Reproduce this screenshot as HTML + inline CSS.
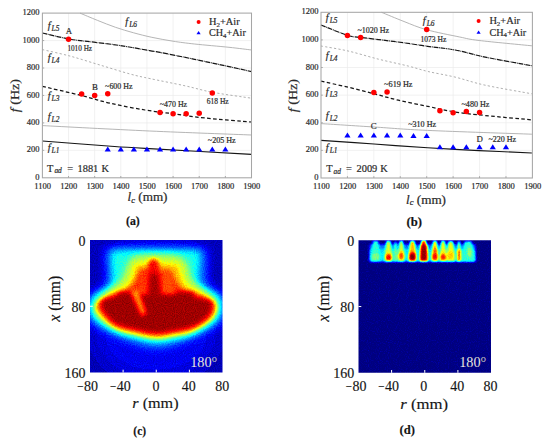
<!DOCTYPE html>
<html><head><meta charset="utf-8">
<style>
html,body{margin:0;padding:0;background:#fff;}
body{width:550px;height:448px;overflow:hidden;}
svg{display:block;font-family:"Liberation Serif", serif;}
.ch text{stroke:#2a2a2a;stroke-width:0.2px;}
.ax text{stroke:#151515;stroke-width:0.15px;}
</style></head>
<body>
<svg width="550" height="448" viewBox="0 0 550 448">
<defs>
  <filter id="b05" x="-30%" y="-30%" width="160%" height="160%"><feGaussianBlur stdDeviation="0.6"/></filter>
  <filter id="b1" x="-30%" y="-30%" width="160%" height="160%"><feGaussianBlur stdDeviation="1"/></filter>
  <filter id="b15" x="-30%" y="-30%" width="160%" height="160%"><feGaussianBlur stdDeviation="1.5"/></filter>
  <filter id="b2" x="-30%" y="-30%" width="160%" height="160%"><feGaussianBlur stdDeviation="2"/></filter>
  <filter id="b3" x="-30%" y="-30%" width="160%" height="160%"><feGaussianBlur stdDeviation="3"/></filter>
  <filter id="b4" x="-30%" y="-30%" width="160%" height="160%"><feGaussianBlur stdDeviation="4"/></filter>
  <filter id="b6" x="-30%" y="-30%" width="160%" height="160%"><feGaussianBlur stdDeviation="6"/></filter>
  <filter id="b10" x="-50%" y="-50%" width="200%" height="200%"><feGaussianBlur stdDeviation="10"/></filter>
  <filter id="jet" x="0" y="0" width="100%" height="100%" color-interpolation-filters="sRGB">
    <feComponentTransfer>
      <feFuncR type="table" tableValues="0.000 0.000 0.000 0.000 0.000 0.000 0.000 0.000 0.000 0.000 0.000 0.000 0.000 0.000 0.000 0.000 0.000 0.000 0.000 0.000 0.000 0.000 0.000 0.000 0.000 0.062 0.125 0.188 0.250 0.312 0.375 0.438 0.500 0.562 0.625 0.688 0.750 0.812 0.875 0.938 1.000 1.000 1.000 1.000 1.000 1.000 1.000 1.000 1.000 1.000 1.000 1.000 1.000 1.000 1.000 1.000 1.000 0.938 0.875 0.812 0.750 0.688 0.625 0.562 0.500"/>
      <feFuncG type="table" tableValues="0.000 0.000 0.000 0.000 0.000 0.000 0.000 0.000 0.000 0.062 0.125 0.188 0.250 0.312 0.375 0.438 0.500 0.562 0.625 0.688 0.750 0.812 0.875 0.938 1.000 1.000 1.000 1.000 1.000 1.000 1.000 1.000 1.000 1.000 1.000 1.000 1.000 1.000 1.000 1.000 1.000 0.938 0.875 0.812 0.750 0.688 0.625 0.562 0.500 0.438 0.375 0.312 0.250 0.188 0.125 0.062 0.000 0.000 0.000 0.000 0.000 0.000 0.000 0.000 0.000"/>
      <feFuncB type="table" tableValues="0.500 0.562 0.625 0.688 0.750 0.812 0.875 0.938 1.000 1.000 1.000 1.000 1.000 1.000 1.000 1.000 1.000 1.000 1.000 1.000 1.000 1.000 1.000 1.000 1.000 0.938 0.875 0.812 0.750 0.688 0.625 0.562 0.500 0.438 0.375 0.312 0.250 0.188 0.125 0.062 0.000 0.000 0.000 0.000 0.000 0.000 0.000 0.000 0.000 0.000 0.000 0.000 0.000 0.000 0.000 0.000 0.000 0.000 0.000 0.000 0.000 0.000 0.000 0.000 0.000"/>
    </feComponentTransfer>
  </filter>
  <filter id="jetn" x="0" y="0" width="100%" height="100%" color-interpolation-filters="sRGB">
    <feTurbulence type="fractalNoise" baseFrequency="0.9" numOctaves="1" seed="3" result="n"/>
    <feColorMatrix in="n" type="matrix" values="1 0 0 0 0  1 0 0 0 0  1 0 0 0 0  0 0 0 0 1" result="na"/>
    <feComposite in="na" in2="SourceGraphic" operator="arithmetic" k1="0" k2="0.14" k3="1" k4="-0.07" result="mix"/>
    <feComponentTransfer in="mix">
      <feFuncR type="table" tableValues="0.000 0.000 0.000 0.000 0.000 0.000 0.000 0.000 0.000 0.000 0.000 0.000 0.000 0.000 0.000 0.000 0.000 0.000 0.000 0.000 0.000 0.000 0.000 0.000 0.000 0.062 0.125 0.188 0.250 0.312 0.375 0.438 0.500 0.562 0.625 0.688 0.750 0.812 0.875 0.938 1.000 1.000 1.000 1.000 1.000 1.000 1.000 1.000 1.000 1.000 1.000 1.000 1.000 1.000 1.000 1.000 1.000 0.938 0.875 0.812 0.750 0.688 0.625 0.562 0.500"/>
      <feFuncG type="table" tableValues="0.000 0.000 0.000 0.000 0.000 0.000 0.000 0.000 0.000 0.062 0.125 0.188 0.250 0.312 0.375 0.438 0.500 0.562 0.625 0.688 0.750 0.812 0.875 0.938 1.000 1.000 1.000 1.000 1.000 1.000 1.000 1.000 1.000 1.000 1.000 1.000 1.000 1.000 1.000 1.000 1.000 0.938 0.875 0.812 0.750 0.688 0.625 0.562 0.500 0.438 0.375 0.312 0.250 0.188 0.125 0.062 0.000 0.000 0.000 0.000 0.000 0.000 0.000 0.000 0.000"/>
      <feFuncB type="table" tableValues="0.500 0.562 0.625 0.688 0.750 0.812 0.875 0.938 1.000 1.000 1.000 1.000 1.000 1.000 1.000 1.000 1.000 1.000 1.000 1.000 1.000 1.000 1.000 1.000 1.000 0.938 0.875 0.812 0.750 0.688 0.625 0.562 0.500 0.438 0.375 0.312 0.250 0.188 0.125 0.062 0.000 0.000 0.000 0.000 0.000 0.000 0.000 0.000 0.000 0.000 0.000 0.000 0.000 0.000 0.000 0.000 0.000 0.000 0.000 0.000 0.000 0.000 0.000 0.000 0.000"/>
    </feComponentTransfer>
  </filter>
  <clipPath id="clipimg"><rect x="0" y="0" width="132.5" height="132.5"/></clipPath>
</defs>
<g class="ch" fill="#2a2a2a">
<line x1="68.54" y1="13.10" x2="68.54" y2="177.80" stroke="#ebebeb" stroke-width="0.7"/>
<line x1="94.67" y1="13.10" x2="94.67" y2="177.80" stroke="#ebebeb" stroke-width="0.7"/>
<line x1="120.81" y1="13.10" x2="120.81" y2="177.80" stroke="#ebebeb" stroke-width="0.7"/>
<line x1="146.95" y1="13.10" x2="146.95" y2="177.80" stroke="#ebebeb" stroke-width="0.7"/>
<line x1="173.09" y1="13.10" x2="173.09" y2="177.80" stroke="#ebebeb" stroke-width="0.7"/>
<line x1="199.22" y1="13.10" x2="199.22" y2="177.80" stroke="#ebebeb" stroke-width="0.7"/>
<line x1="225.36" y1="13.10" x2="225.36" y2="177.80" stroke="#ebebeb" stroke-width="0.7"/>
<line x1="42.40" y1="150.35" x2="251.50" y2="150.35" stroke="#ebebeb" stroke-width="0.7"/>
<line x1="42.40" y1="122.90" x2="251.50" y2="122.90" stroke="#ebebeb" stroke-width="0.7"/>
<line x1="42.40" y1="95.45" x2="251.50" y2="95.45" stroke="#ebebeb" stroke-width="0.7"/>
<line x1="42.40" y1="68.00" x2="251.50" y2="68.00" stroke="#ebebeb" stroke-width="0.7"/>
<line x1="42.40" y1="40.55" x2="251.50" y2="40.55" stroke="#ebebeb" stroke-width="0.7"/>
<line x1="68.54" y1="177.80" x2="68.54" y2="176.00" stroke="#888" stroke-width="0.7"/>
<line x1="94.67" y1="177.80" x2="94.67" y2="176.00" stroke="#888" stroke-width="0.7"/>
<line x1="120.81" y1="177.80" x2="120.81" y2="176.00" stroke="#888" stroke-width="0.7"/>
<line x1="146.95" y1="177.80" x2="146.95" y2="176.00" stroke="#888" stroke-width="0.7"/>
<line x1="173.09" y1="177.80" x2="173.09" y2="176.00" stroke="#888" stroke-width="0.7"/>
<line x1="199.22" y1="177.80" x2="199.22" y2="176.00" stroke="#888" stroke-width="0.7"/>
<line x1="225.36" y1="177.80" x2="225.36" y2="176.00" stroke="#888" stroke-width="0.7"/>
<line x1="42.40" y1="150.35" x2="44.20" y2="150.35" stroke="#888" stroke-width="0.7"/>
<line x1="42.40" y1="122.90" x2="44.20" y2="122.90" stroke="#888" stroke-width="0.7"/>
<line x1="42.40" y1="95.45" x2="44.20" y2="95.45" stroke="#888" stroke-width="0.7"/>
<line x1="42.40" y1="68.00" x2="44.20" y2="68.00" stroke="#888" stroke-width="0.7"/>
<line x1="42.40" y1="40.55" x2="44.20" y2="40.55" stroke="#888" stroke-width="0.7"/>
<rect x="187.00" y="13.60" width="64.00" height="25.90" fill="#fff"/>
<path d="M42.40 141.00 C53.33 141.83 90.90 144.77 108.00 146.00 C125.10 147.23 121.08 147.00 145.00 148.40 C168.92 149.80 233.75 153.40 251.50 154.40" fill="none" stroke="#151515" stroke-width="1.15"/>
<path d="M42.40 125.60 C60.27 126.50 114.75 129.43 149.60 131.00 C184.45 132.57 234.52 134.33 251.50 135.00" fill="none" stroke="#a8a8a8" stroke-width="0.85"/>
<path d="M42.40 86.40 C48.70 87.87 68.88 92.38 80.20 95.20 C91.52 98.02 99.50 100.83 110.30 103.30 C121.10 105.77 134.22 108.22 145.00 110.00 C155.78 111.78 165.00 112.67 175.00 114.00 C185.00 115.33 192.25 116.67 205.00 118.00 C217.75 119.33 243.75 121.33 251.50 122.00" fill="none" stroke="#151515" stroke-width="1.25" stroke-dasharray="3.6 2.4"/>
<path d="M42.40 49.60 C47.02 50.68 60.47 53.52 70.10 56.10 C79.73 58.68 90.15 62.10 100.20 65.10 C110.25 68.10 122.10 71.85 130.40 74.10 C138.70 76.35 140.90 76.65 150.00 78.60 C159.10 80.55 174.57 83.52 185.00 85.80 C195.43 88.08 201.52 90.23 212.60 92.30 C223.68 94.37 245.02 97.22 251.50 98.20" fill="none" stroke="#9a9a9a" stroke-width="0.8" stroke-dasharray="2.2 2.2"/>
<path d="M42.40 33.00 C46.83 34.00 60.40 37.47 69.00 39.00 C77.60 40.53 85.50 41.12 94.00 42.20 C102.50 43.28 110.73 44.10 120.00 45.50 C129.27 46.90 142.93 49.45 149.60 50.60 C156.27 51.75 152.52 50.95 160.00 52.40 C167.48 53.85 183.00 56.93 194.50 59.30 C206.00 61.67 219.50 64.55 229.00 66.60 C238.50 68.65 247.75 70.77 251.50 71.60" fill="none" stroke="#151515" stroke-width="1.2" stroke-dasharray="5 0.7 0.8 0.7"/>
<path d="M80.00 13.10 C82.88 14.30 91.38 17.93 97.30 20.30 C103.22 22.67 109.45 25.22 115.50 27.30 C121.55 29.38 127.55 31.13 133.60 32.80 C139.65 34.47 145.23 35.90 151.80 37.30 C158.37 38.70 165.88 40.08 173.00 41.20 C180.12 42.32 185.17 42.98 194.50 44.00 C203.83 45.02 219.50 46.30 229.00 47.30 C238.50 48.30 247.75 49.55 251.50 50.00" fill="none" stroke="#a8a8a8" stroke-width="0.85"/>
<rect x="42.40" y="13.10" width="209.10" height="164.70" fill="none" stroke="#a6a6a6" stroke-width="1.05"/>
<circle cx="68.54" cy="39.18" r="2.75" fill="#ff0000"/>
<circle cx="81.61" cy="94.08" r="2.75" fill="#ff0000"/>
<circle cx="94.67" cy="95.45" r="2.75" fill="#ff0000"/>
<circle cx="107.74" cy="93.80" r="2.75" fill="#ff0000"/>
<circle cx="160.02" cy="112.47" r="2.75" fill="#ff0000"/>
<circle cx="173.09" cy="113.70" r="2.75" fill="#ff0000"/>
<circle cx="186.16" cy="113.70" r="2.75" fill="#ff0000"/>
<circle cx="199.22" cy="113.29" r="2.75" fill="#ff0000"/>
<circle cx="212.29" cy="92.98" r="2.75" fill="#ff0000"/>
<path d="M107.74 146.59 L110.84 151.59 L104.64 151.59 Z" fill="#0000ff"/>
<path d="M120.81 146.59 L123.91 151.59 L117.71 151.59 Z" fill="#0000ff"/>
<path d="M133.88 146.59 L136.98 151.59 L130.78 151.59 Z" fill="#0000ff"/>
<path d="M146.95 146.59 L150.05 151.59 L143.85 151.59 Z" fill="#0000ff"/>
<path d="M160.02 146.59 L163.12 151.59 L156.92 151.59 Z" fill="#0000ff"/>
<path d="M173.09 146.59 L176.19 151.59 L169.99 151.59 Z" fill="#0000ff"/>
<path d="M186.16 146.59 L189.26 151.59 L183.06 151.59 Z" fill="#0000ff"/>
<path d="M199.22 146.59 L202.32 151.59 L196.12 151.59 Z" fill="#0000ff"/>
<path d="M212.29 146.59 L215.39 151.59 L209.19 151.59 Z" fill="#0000ff"/>
<path d="M225.36 146.59 L228.46 151.59 L222.26 151.59 Z" fill="#0000ff"/>
<text x="39.60" y="179.90" font-size="8.50" text-anchor="end" >0</text>
<text x="39.60" y="152.45" font-size="8.50" text-anchor="end" >200</text>
<text x="39.60" y="125.00" font-size="8.50" text-anchor="end" >400</text>
<text x="39.60" y="97.55" font-size="8.50" text-anchor="end" >600</text>
<text x="39.60" y="70.10" font-size="8.50" text-anchor="end" >800</text>
<text x="39.60" y="42.65" font-size="8.50" text-anchor="end" >1000</text>
<text x="39.60" y="15.20" font-size="8.50" text-anchor="end" >1200</text>
<text x="42.70" y="188.70" font-size="8.50" text-anchor="middle" >1100</text>
<text x="68.84" y="188.70" font-size="8.50" text-anchor="middle" >1200</text>
<text x="94.97" y="188.70" font-size="8.50" text-anchor="middle" >1300</text>
<text x="121.11" y="188.70" font-size="8.50" text-anchor="middle" >1400</text>
<text x="147.25" y="188.70" font-size="8.50" text-anchor="middle" >1500</text>
<text x="173.39" y="188.70" font-size="8.50" text-anchor="middle" >1600</text>
<text x="199.53" y="188.70" font-size="8.50" text-anchor="middle" >1700</text>
<text x="225.66" y="188.70" font-size="8.50" text-anchor="middle" >1800</text>
<text x="251.80" y="188.70" font-size="8.50" text-anchor="middle" >1900</text>
<text x="47.70" y="28.50" font-size="10.2"><tspan font-style="italic">f</tspan><tspan font-style="italic" font-size="7.4" dx="1.0" dy="2.0">L5</tspan></text>
<text x="125.30" y="25.00" font-size="10.2"><tspan font-style="italic">f</tspan><tspan font-style="italic" font-size="7.4" dx="1.0" dy="2.0">L6</tspan></text>
<text x="47.70" y="61.30" font-size="10.2"><tspan font-style="italic">f</tspan><tspan font-style="italic" font-size="7.4" dx="1.0" dy="2.0">L4</tspan></text>
<text x="47.70" y="98.80" font-size="10.2"><tspan font-style="italic">f</tspan><tspan font-style="italic" font-size="7.4" dx="1.0" dy="2.0">L3</tspan></text>
<text x="47.70" y="119.90" font-size="10.2"><tspan font-style="italic">f</tspan><tspan font-style="italic" font-size="7.4" dx="1.0" dy="2.0">L2</tspan></text>
<text x="47.70" y="151.00" font-size="10.2"><tspan font-style="italic">f</tspan><tspan font-style="italic" font-size="7.4" dx="1.0" dy="2.0">L1</tspan></text>
<text x="68.90" y="33.90" font-size="8.80" text-anchor="middle" >A</text>
<text x="67.40" y="50.60" font-size="7.60" text-anchor="start" textLength="24.7" lengthAdjust="spacingAndGlyphs" >1010 Hz</text>
<text x="95.00" y="89.80" font-size="8.80" text-anchor="middle" >B</text>
<text x="105.10" y="88.80" font-size="7.60" text-anchor="start" textLength="27.4" lengthAdjust="spacingAndGlyphs" >~600 Hz</text>
<text x="159.80" y="107.40" font-size="7.60" text-anchor="start" textLength="27.3" lengthAdjust="spacingAndGlyphs" >~470 Hz</text>
<text x="206.80" y="103.60" font-size="7.60" text-anchor="start" textLength="21.9" lengthAdjust="spacingAndGlyphs" >618 Hz</text>
<text x="207.80" y="143.20" font-size="7.60" text-anchor="start" textLength="27.9" lengthAdjust="spacingAndGlyphs" >~205 Hz</text>
<text y="171.6" font-size="10.4"><tspan x="47.0">T</tspan><tspan x="54.4" font-size="7.4" font-style="italic" dy="1.6">ad</tspan><tspan x="67.3" dy="-1.6">=</tspan><tspan x="77.5">1881</tspan><tspan x="101.4">K</tspan></text>
<circle cx="198.6" cy="21.9" r="2.0" fill="#ff0000"/>
<path d="M198.6 30.9 L200.7 34.2 L196.5 34.2 Z" fill="#0000ff"/>
<text x="209" y="25.2" font-size="10.2" textLength="30.6" lengthAdjust="spacingAndGlyphs">H<tspan font-size="6.8" dy="1.8">2</tspan><tspan dy="-1.8">+Air</tspan></text>
<text x="209" y="36.0" font-size="10.2" textLength="36.8" lengthAdjust="spacingAndGlyphs">CH<tspan font-size="6.8" dy="1.8">4</tspan><tspan dy="-1.8">+Air</tspan></text>
<text transform="translate(18.9 95.6) rotate(-90)" text-anchor="middle" font-size="12.3" textLength="33.2" lengthAdjust="spacingAndGlyphs"><tspan font-style="italic">f</tspan> (Hz)</text>
<text x="127.5" y="201.3" font-size="11.5" textLength="40" lengthAdjust="spacingAndGlyphs"><tspan font-style="italic">l</tspan><tspan font-style="italic" font-size="7.5" dy="1.8">c</tspan><tspan dy="-1.8"> (mm)</tspan></text>
<text x="126" y="224.7" font-size="12.3" font-weight="bold" fill="#111" textLength="13.8" lengthAdjust="spacingAndGlyphs">(a)</text>
<line x1="347.43" y1="12.30" x2="347.43" y2="178.00" stroke="#ebebeb" stroke-width="0.7"/>
<line x1="373.85" y1="12.30" x2="373.85" y2="178.00" stroke="#ebebeb" stroke-width="0.7"/>
<line x1="400.27" y1="12.30" x2="400.27" y2="178.00" stroke="#ebebeb" stroke-width="0.7"/>
<line x1="426.70" y1="12.30" x2="426.70" y2="178.00" stroke="#ebebeb" stroke-width="0.7"/>
<line x1="453.12" y1="12.30" x2="453.12" y2="178.00" stroke="#ebebeb" stroke-width="0.7"/>
<line x1="479.55" y1="12.30" x2="479.55" y2="178.00" stroke="#ebebeb" stroke-width="0.7"/>
<line x1="505.97" y1="12.30" x2="505.97" y2="178.00" stroke="#ebebeb" stroke-width="0.7"/>
<line x1="321.00" y1="150.38" x2="532.40" y2="150.38" stroke="#ebebeb" stroke-width="0.7"/>
<line x1="321.00" y1="122.77" x2="532.40" y2="122.77" stroke="#ebebeb" stroke-width="0.7"/>
<line x1="321.00" y1="95.15" x2="532.40" y2="95.15" stroke="#ebebeb" stroke-width="0.7"/>
<line x1="321.00" y1="67.53" x2="532.40" y2="67.53" stroke="#ebebeb" stroke-width="0.7"/>
<line x1="321.00" y1="39.92" x2="532.40" y2="39.92" stroke="#ebebeb" stroke-width="0.7"/>
<line x1="347.43" y1="178.00" x2="347.43" y2="176.20" stroke="#888" stroke-width="0.7"/>
<line x1="373.85" y1="178.00" x2="373.85" y2="176.20" stroke="#888" stroke-width="0.7"/>
<line x1="400.27" y1="178.00" x2="400.27" y2="176.20" stroke="#888" stroke-width="0.7"/>
<line x1="426.70" y1="178.00" x2="426.70" y2="176.20" stroke="#888" stroke-width="0.7"/>
<line x1="453.12" y1="178.00" x2="453.12" y2="176.20" stroke="#888" stroke-width="0.7"/>
<line x1="479.55" y1="178.00" x2="479.55" y2="176.20" stroke="#888" stroke-width="0.7"/>
<line x1="505.97" y1="178.00" x2="505.97" y2="176.20" stroke="#888" stroke-width="0.7"/>
<line x1="321.00" y1="150.38" x2="322.80" y2="150.38" stroke="#888" stroke-width="0.7"/>
<line x1="321.00" y1="122.77" x2="322.80" y2="122.77" stroke="#888" stroke-width="0.7"/>
<line x1="321.00" y1="95.15" x2="322.80" y2="95.15" stroke="#888" stroke-width="0.7"/>
<line x1="321.00" y1="67.53" x2="322.80" y2="67.53" stroke="#888" stroke-width="0.7"/>
<line x1="321.00" y1="39.92" x2="322.80" y2="39.92" stroke="#888" stroke-width="0.7"/>
<rect x="467.00" y="12.80" width="65.00" height="26.00" fill="#fff"/>
<path d="M321.00 140.40 C329.83 141.00 356.23 142.77 374.00 144.00 C391.77 145.23 410.10 146.70 427.60 147.80 C445.10 148.90 461.62 149.73 479.00 150.60 C496.38 151.47 523.08 152.60 531.90 153.00" fill="none" stroke="#151515" stroke-width="1.15"/>
<path d="M321.00 123.60 C329.83 124.17 356.23 125.87 374.00 127.00 C391.77 128.13 401.28 129.20 427.60 130.40 C453.92 131.60 514.52 133.57 531.90 134.20" fill="none" stroke="#a8a8a8" stroke-width="0.85"/>
<path d="M321.00 81.20 C325.52 82.20 339.23 85.10 348.10 87.20 C356.97 89.30 365.83 91.63 374.20 93.80 C382.57 95.97 389.40 98.12 398.30 100.20 C407.20 102.28 418.13 104.33 427.60 106.30 C437.07 108.27 445.50 110.47 455.10 112.00 C464.70 113.53 472.40 114.18 485.20 115.50 C498.00 116.82 524.12 119.17 531.90 119.90" fill="none" stroke="#151515" stroke-width="1.25" stroke-dasharray="3.6 2.4"/>
<path d="M321.00 46.00 C325.52 46.83 338.57 48.82 348.10 51.00 C357.63 53.18 368.15 56.58 378.20 59.10 C388.25 61.62 400.10 64.03 408.40 66.10 C416.70 68.17 420.22 69.67 428.00 71.50 C435.78 73.33 445.57 74.82 455.10 77.10 C464.63 79.38 472.40 82.42 485.20 85.20 C498.00 87.98 524.12 92.37 531.90 93.80" fill="none" stroke="#9a9a9a" stroke-width="0.8" stroke-dasharray="2.2 2.2"/>
<path d="M321.00 25.00 C325.43 26.73 341.00 33.33 347.60 35.40 C354.20 37.47 352.20 36.30 360.60 37.40 C369.00 38.50 386.83 40.52 398.00 42.00 C409.17 43.48 418.08 44.97 427.60 46.30 C437.12 47.63 445.50 48.20 455.10 50.00 C464.70 51.80 472.40 54.47 485.20 57.10 C498.00 59.73 524.12 64.35 531.90 65.80" fill="none" stroke="#151515" stroke-width="1.2" stroke-dasharray="5 0.7 0.8 0.7"/>
<path d="M381.50 12.30 C385.25 13.83 396.50 18.60 404.00 21.50 C411.50 24.40 417.22 27.12 426.50 29.70 C435.78 32.28 450.92 35.20 459.70 37.00 C468.48 38.80 467.17 39.03 479.20 40.50 C491.23 41.97 523.12 44.92 531.90 45.80" fill="none" stroke="#a8a8a8" stroke-width="0.85"/>
<rect x="321.00" y="12.30" width="211.40" height="165.70" fill="none" stroke="#a6a6a6" stroke-width="1.05"/>
<circle cx="347.43" cy="35.50" r="2.75" fill="#ff0000"/>
<circle cx="360.64" cy="37.43" r="2.75" fill="#ff0000"/>
<circle cx="373.85" cy="92.39" r="2.75" fill="#ff0000"/>
<circle cx="387.06" cy="92.11" r="2.75" fill="#ff0000"/>
<circle cx="426.70" cy="29.42" r="2.75" fill="#ff0000"/>
<circle cx="439.91" cy="110.75" r="2.75" fill="#ff0000"/>
<circle cx="453.12" cy="112.69" r="2.75" fill="#ff0000"/>
<circle cx="466.34" cy="111.58" r="2.75" fill="#ff0000"/>
<circle cx="479.55" cy="112.41" r="2.75" fill="#ff0000"/>
<path d="M347.43 132.39 L350.53 137.39 L344.32 137.39 Z" fill="#0000ff"/>
<path d="M360.64 132.39 L363.74 137.39 L357.54 137.39 Z" fill="#0000ff"/>
<path d="M373.85 132.39 L376.95 137.39 L370.75 137.39 Z" fill="#0000ff"/>
<path d="M387.06 132.39 L390.16 137.39 L383.96 137.39 Z" fill="#0000ff"/>
<path d="M400.27 132.39 L403.38 137.39 L397.17 137.39 Z" fill="#0000ff"/>
<path d="M413.49 132.95 L416.59 137.95 L410.39 137.95 Z" fill="#0000ff"/>
<path d="M426.70 132.95 L429.80 137.95 L423.60 137.95 Z" fill="#0000ff"/>
<path d="M439.91 144.27 L443.01 149.27 L436.81 149.27 Z" fill="#0000ff"/>
<path d="M453.12 144.27 L456.23 149.27 L450.02 149.27 Z" fill="#0000ff"/>
<path d="M466.34 144.27 L469.44 149.27 L463.24 149.27 Z" fill="#0000ff"/>
<path d="M479.55 144.27 L482.65 149.27 L476.45 149.27 Z" fill="#0000ff"/>
<path d="M492.76 144.27 L495.86 149.27 L489.66 149.27 Z" fill="#0000ff"/>
<path d="M505.97 144.27 L509.07 149.27 L502.87 149.27 Z" fill="#0000ff"/>
<text x="318.40" y="180.10" font-size="8.50" text-anchor="end" >0</text>
<text x="318.40" y="152.48" font-size="8.50" text-anchor="end" >200</text>
<text x="318.40" y="124.87" font-size="8.50" text-anchor="end" >400</text>
<text x="318.40" y="97.25" font-size="8.50" text-anchor="end" >600</text>
<text x="318.40" y="69.63" font-size="8.50" text-anchor="end" >800</text>
<text x="318.40" y="42.02" font-size="8.50" text-anchor="end" >1000</text>
<text x="318.40" y="14.40" font-size="8.50" text-anchor="end" >1200</text>
<text x="321.30" y="188.90" font-size="8.50" text-anchor="middle" >1100</text>
<text x="347.73" y="188.90" font-size="8.50" text-anchor="middle" >1200</text>
<text x="374.15" y="188.90" font-size="8.50" text-anchor="middle" >1300</text>
<text x="400.57" y="188.90" font-size="8.50" text-anchor="middle" >1400</text>
<text x="427.00" y="188.90" font-size="8.50" text-anchor="middle" >1500</text>
<text x="453.43" y="188.90" font-size="8.50" text-anchor="middle" >1600</text>
<text x="479.85" y="188.90" font-size="8.50" text-anchor="middle" >1700</text>
<text x="506.27" y="188.90" font-size="8.50" text-anchor="middle" >1800</text>
<text x="532.70" y="188.90" font-size="8.50" text-anchor="middle" >1900</text>
<text x="325.80" y="21.20" font-size="10.2"><tspan font-style="italic">f</tspan><tspan font-style="italic" font-size="7.4" dx="1.0" dy="2.0">L5</tspan></text>
<text x="422.80" y="24.40" font-size="10.2"><tspan font-style="italic">f</tspan><tspan font-style="italic" font-size="7.4" dx="1.0" dy="2.0">L6</tspan></text>
<text x="325.80" y="58.80" font-size="10.2"><tspan font-style="italic">f</tspan><tspan font-style="italic" font-size="7.4" dx="1.0" dy="2.0">L4</tspan></text>
<text x="325.80" y="95.00" font-size="10.2"><tspan font-style="italic">f</tspan><tspan font-style="italic" font-size="7.4" dx="1.0" dy="2.0">L3</tspan></text>
<text x="325.80" y="119.30" font-size="10.2"><tspan font-style="italic">f</tspan><tspan font-style="italic" font-size="7.4" dx="1.0" dy="2.0">L2</tspan></text>
<text x="325.80" y="151.20" font-size="10.2"><tspan font-style="italic">f</tspan><tspan font-style="italic" font-size="7.4" dx="1.0" dy="2.0">L1</tspan></text>
<text x="357.40" y="32.60" font-size="7.60" text-anchor="start" textLength="31.7" lengthAdjust="spacingAndGlyphs" >~1020 Hz</text>
<text x="420.50" y="41.60" font-size="7.60" text-anchor="start" textLength="25.8" lengthAdjust="spacingAndGlyphs" >1073 Hz</text>
<text x="384.10" y="86.60" font-size="7.60" text-anchor="start" textLength="28.4" lengthAdjust="spacingAndGlyphs" >~619 Hz</text>
<text x="461.50" y="106.90" font-size="7.60" text-anchor="start" textLength="27.9" lengthAdjust="spacingAndGlyphs" >~480 Hz</text>
<text x="373.80" y="129.40" font-size="8.80" text-anchor="middle" >C</text>
<text x="408.20" y="127.20" font-size="7.60" text-anchor="start" textLength="27.9" lengthAdjust="spacingAndGlyphs" >~310 Hz</text>
<text x="479.80" y="142.00" font-size="8.80" text-anchor="middle" >D</text>
<text x="488.40" y="142.00" font-size="7.60" text-anchor="start" textLength="27.7" lengthAdjust="spacingAndGlyphs" >~220 Hz</text>
<text y="171.9" font-size="10.4"><tspan x="326.3">T</tspan><tspan x="333.5" font-size="7.4" font-style="italic" dy="1.6">ad</tspan><tspan x="346.1" dy="-1.6">=</tspan><tspan x="356.5">2009</tspan><tspan x="380.3">K</tspan></text>
<circle cx="478.6" cy="21" r="2.0" fill="#ff0000"/>
<path d="M478.6 30.5 L480.7 33.8 L476.5 33.8 Z" fill="#0000ff"/>
<text x="489.4" y="24.4" font-size="10.2" textLength="30.6" lengthAdjust="spacingAndGlyphs">H<tspan font-size="6.8" dy="1.8">2</tspan><tspan dy="-1.8">+Air</tspan></text>
<text x="489.4" y="35.6" font-size="10.2" textLength="36.8" lengthAdjust="spacingAndGlyphs">CH<tspan font-size="6.8" dy="1.8">4</tspan><tspan dy="-1.8">+Air</tspan></text>
<text transform="translate(296.9 95.6) rotate(-90)" text-anchor="middle" font-size="12.3" textLength="33.2" lengthAdjust="spacingAndGlyphs"><tspan font-style="italic">f</tspan> (Hz)</text>
<text x="406" y="203.5" font-size="11.5" textLength="40" lengthAdjust="spacingAndGlyphs"><tspan font-style="italic">l</tspan><tspan font-style="italic" font-size="7.5" dy="1.8">c</tspan><tspan dy="-1.8"> (mm)</tspan></text>
<text x="406.6" y="225.8" font-size="12.3" font-weight="bold" fill="#111" textLength="15.5" lengthAdjust="spacingAndGlyphs">(b)</text>
</g>
<g transform="translate(90 240)">
  <g clip-path="url(#clipimg)"><g filter="url(#jetn)"><rect x="-5" y="-5" width="143" height="143" fill="rgb(15,15,15)"/><ellipse cx="66" cy="95" rx="60" ry="45" fill="rgb(28,28,28)" filter="url(#b10)"/><ellipse cx="66" cy="12" rx="45" ry="10" fill="rgb(31,31,31)" filter="url(#b6)"/><path filter="url(#b4)" fill="rgb(61,61,61)" d="M24.00 7.00 C8.50 8.00 16.50 7.17 15.00 13.00 C13.50 18.83 17.17 35.33 15.00 42.00 C12.83 48.67 5.17 49.17 2.00 53.00 C-1.17 56.83 -3.83 60.00 -4.00 65.00 C-4.17 70.00 -3.92 77.67 1.00 83.00 C5.92 88.33 14.67 92.67 25.50 97.00 C36.33 101.33 53.08 108.67 66.00 109.00 C78.92 109.33 92.17 103.33 103.00 99.00 C113.83 94.67 125.33 88.67 131.00 83.00 C136.67 77.33 137.00 70.00 137.00 65.00 C137.00 60.00 134.17 56.83 131.00 53.00 C127.83 49.17 120.33 48.67 118.00 42.00 C115.67 35.33 118.67 18.83 117.00 13.00 C115.33 7.17 123.50 8.00 108.00 7.00 C92.50 6.00 39.50 6.00 24.00 7.00 Z"/>
<path filter="url(#b3)" fill="rgb(102,102,102)" d="M32.00 11.00 C19.00 11.83 23.67 10.50 22.00 16.00 C20.33 21.50 24.67 37.50 22.00 44.00 C19.33 50.50 9.67 51.50 6.00 55.00 C2.33 58.50 0.17 61.00 0.00 65.00 C-0.17 69.00 0.75 74.50 5.00 79.00 C9.25 83.50 18.92 88.83 25.50 92.00 C32.08 95.17 37.75 96.25 44.50 98.00 C51.25 99.75 59.42 102.17 66.00 102.50 C72.58 102.83 77.83 101.33 84.00 100.00 C90.17 98.67 96.00 97.83 103.00 94.50 C110.00 91.17 121.33 84.92 126.00 80.00 C130.67 75.08 130.83 69.17 131.00 65.00 C131.17 60.83 130.67 58.50 127.00 55.00 C123.33 51.50 112.00 50.50 109.00 44.00 C106.00 37.50 110.50 21.50 109.00 16.00 C107.50 10.50 112.83 11.83 100.00 11.00 C87.17 10.17 45.00 10.17 32.00 11.00 Z"/>
<path filter="url(#b3)" fill="rgb(148,148,148)" d="M48.00 16.00 C40.17 17.33 40.83 20.00 38.00 24.00 C35.17 28.00 35.17 35.00 31.00 40.00 C26.83 45.00 17.42 49.83 13.00 54.00 C8.58 58.17 5.33 61.17 4.50 65.00 C3.67 68.83 4.50 72.92 8.00 77.00 C11.50 81.08 19.42 86.50 25.50 89.50 C31.58 92.50 37.75 93.42 44.50 95.00 C51.25 96.58 59.42 98.75 66.00 99.00 C72.58 99.25 77.83 97.67 84.00 96.50 C90.17 95.33 96.50 94.92 103.00 92.00 C109.50 89.08 118.92 83.50 123.00 79.00 C127.08 74.50 128.00 69.17 127.50 65.00 C127.00 60.83 124.25 58.17 120.00 54.00 C115.75 49.83 105.83 45.00 102.00 40.00 C98.17 35.00 99.83 28.00 97.00 24.00 C94.17 20.00 93.17 17.33 85.00 16.00 C76.83 14.67 55.83 14.67 48.00 16.00 Z"/>
<path filter="url(#b2)" fill="rgb(178,178,178)" d="M49.00 25.00 C42.33 26.50 46.00 30.50 44.00 34.00 C42.00 37.50 41.17 42.50 37.00 46.00 C32.83 49.50 24.08 51.83 19.00 55.00 C13.92 58.17 8.00 61.67 6.50 65.00 C5.00 68.33 6.83 71.25 10.00 75.00 C13.17 78.75 19.75 84.50 25.50 87.50 C31.25 90.50 37.75 91.42 44.50 93.00 C51.25 94.58 59.42 96.75 66.00 97.00 C72.58 97.25 77.83 95.67 84.00 94.50 C90.17 93.33 96.83 92.75 103.00 90.00 C109.17 87.25 117.25 82.17 121.00 78.00 C124.75 73.83 126.83 68.83 125.50 65.00 C124.17 61.17 117.92 58.17 113.00 55.00 C108.08 51.83 99.83 49.50 96.00 46.00 C92.17 42.50 92.00 37.50 90.00 34.00 C88.00 30.50 90.83 26.50 84.00 25.00 C77.17 23.50 55.67 23.50 49.00 25.00 Z"/>
<path filter="url(#b2)" fill="rgb(214,214,214)" d="M52.00 32.00 C46.50 33.67 47.67 39.00 45.00 42.00 C42.33 45.00 40.50 47.50 36.00 50.00 C31.50 52.50 22.58 54.58 18.00 57.00 C13.42 59.42 9.50 61.83 8.50 64.50 C7.50 67.17 9.17 69.50 12.00 73.00 C14.83 76.50 20.08 82.50 25.50 85.50 C30.92 88.50 37.75 89.42 44.50 91.00 C51.25 92.58 59.42 94.75 66.00 95.00 C72.58 95.25 77.83 93.67 84.00 92.50 C90.17 91.33 97.00 90.58 103.00 88.00 C109.00 85.42 116.50 80.92 120.00 77.00 C123.50 73.08 125.00 67.83 124.00 64.50 C123.00 61.17 119.00 59.42 114.00 57.00 C109.00 54.58 98.67 52.50 94.00 50.00 C89.33 47.50 88.67 45.00 86.00 42.00 C83.33 39.00 83.67 33.67 78.00 32.00 C72.33 30.33 57.50 30.33 52.00 32.00 Z"/>
<path filter="url(#b2)" fill="rgb(247,247,247)" d="M36.00 52.00 C23.58 52.75 29.17 55.17 25.50 56.50 C21.83 57.83 16.33 58.83 14.00 60.00 C11.67 61.17 11.50 61.67 11.50 63.50 C11.50 65.33 11.67 67.75 14.00 71.00 C16.33 74.25 20.42 80.08 25.50 83.00 C30.58 85.92 37.75 86.92 44.50 88.50 C51.25 90.08 59.42 92.25 66.00 92.50 C72.58 92.75 77.83 91.13 84.00 90.00 C90.17 88.87 97.33 88.20 103.00 85.70 C108.67 83.20 114.92 78.70 118.00 75.00 C121.08 71.30 121.67 66.00 121.50 63.50 C121.33 61.00 120.08 61.17 117.00 60.00 C113.92 58.83 105.83 57.83 103.00 56.50 C100.17 55.17 111.17 52.75 100.00 52.00 C88.83 51.25 48.42 51.25 36.00 52.00 Z"/>
<g filter="url(#b2)"><path fill="rgb(224,224,224)" d="M58 24 C60 17 67 17 69 24 L72 56 L56 56 Z"/><path fill="rgb(209,209,209)" d="M50 31 C51 28 56 28 57 31 L58 54 L48 54 Z"/><path fill="rgb(204,204,204)" d="M73 32 C74 28 80 28 81 32 L86 54 L72 54 Z"/><path fill="rgb(245,245,245)" d="M60 36 C61 32 66 32 68 36 L71 56 L58 56 Z"/><path fill="rgb(184,184,184)" d="M40 50 L48 50 L56 73 L52 76 Z"/></g></g></g>
  <g stroke="#fff" stroke-width="1"><line x1="33.1" y1="132.5" x2="33.1" y2="129.7"/><line x1="66.25" y1="132.5" x2="66.25" y2="129.7"/><line x1="99.4" y1="132.5" x2="99.4" y2="129.7"/><line x1="0" y1="66.25" x2="2.8" y2="66.25"/></g>
</g>
<g transform="translate(358.5 240.3)">
  <g clip-path="url(#clipimg)"><g filter="url(#jetn)"><rect x="-5" y="-5" width="143" height="143" fill="rgb(0,0,0)"/>
<path filter="url(#b1)" fill="rgb(61,61,61)" d="M11 4 L117 4 L117.5 21.5 L10.5 21.5 Z"/>
<path filter="url(#b1)" fill="rgb(92,92,92)" d="M12 9 L116 9 L116 20.5 L12 20.5 Z"/>
<g filter="url(#b1)"><path fill="rgb(107,107,107)" d="M12.50 21.00 C12.50 15.00 13.89 4.50 14.82 0.50 L19.48 0.50 C20.41 4.50 21.80 15.00 21.80 21.00 Z"/><ellipse cx="17.00" cy="16.50" rx="4.00" ry="3.50" fill="rgb(128,128,128)"/><path fill="rgb(148,148,148)" d="M26.10 21.00 C26.10 15.00 27.26 4.50 28.02 0.50 L31.88 0.50 C32.64 4.50 33.80 15.00 33.80 21.00 Z"/><ellipse cx="30.20" cy="16.80" rx="3.30" ry="3.60" fill="rgb(204,204,204)"/><ellipse cx="30.40" cy="17.50" rx="2.20" ry="2.20" fill="rgb(230,230,230)"/><path fill="rgb(128,128,128)" d="M35.40 21.00 C35.40 15.00 35.89 5.50 36.23 1.50 L37.88 1.50 C38.21 5.50 38.70 15.00 38.70 21.00 Z"/><path fill="rgb(153,153,153)" d="M39.80 21.00 C39.80 15.00 40.70 4.50 41.30 0.50 L44.30 0.50 C44.90 4.50 45.80 15.00 45.80 21.00 Z"/><ellipse cx="42.80" cy="15.50" rx="3.00" ry="3.60" fill="rgb(204,204,204)"/><path fill="rgb(178,178,178)" d="M50.10 21.00 C50.10 15.00 51.26 4.50 52.02 0.50 L55.88 0.50 C56.64 4.50 57.80 15.00 57.80 21.00 Z"/><ellipse cx="54.00" cy="16.20" rx="3.60" ry="4.20" fill="rgb(237,237,237)"/><ellipse cx="54.00" cy="17.00" rx="2.60" ry="3.00" fill="rgb(255,255,255)"/><path fill="rgb(217,217,217)" d="M61.20 21.00 C61.20 15.00 62.40 4.00 63.20 0.00 L67.20 0.00 C68.00 4.00 69.20 15.00 69.20 21.00 Z"/><rect x="62" y="4" width="6.8" height="16.5" rx="3" fill="rgb(250,250,250)"/><path fill="rgb(168,168,168)" d="M73.10 21.00 C73.10 15.00 74.09 4.50 74.75 0.50 L78.05 0.50 C78.71 4.50 79.70 15.00 79.70 21.00 Z"/><rect x="75.2" y="7" width="3" height="12" rx="1.5" fill="rgb(209,209,209)"/><ellipse cx="76.40" cy="16.30" rx="3.00" ry="3.20" fill="rgb(224,224,224)"/><path fill="rgb(158,158,158)" d="M81.30 21.00 C81.30 15.00 82.29 4.50 82.95 0.50 L86.25 0.50 C86.91 4.50 87.90 15.00 87.90 21.00 Z"/><ellipse cx="84.60" cy="16.80" rx="3.00" ry="3.00" fill="rgb(219,219,219)"/><path fill="rgb(153,153,153)" d="M87.90 21.00 C87.90 15.00 89.20 5.00 90.08 1.00 L94.42 1.00 C95.30 5.00 96.60 15.00 96.60 21.00 Z"/><ellipse cx="92.00" cy="15.00" rx="3.50" ry="4.00" fill="rgb(173,173,173)"/><path fill="rgb(153,153,153)" d="M98.80 21.00 C98.80 15.00 99.31 5.00 99.65 1.00 L101.35 1.00 C101.69 5.00 102.20 15.00 102.20 21.00 Z"/><rect x="99.1" y="9" width="2.9" height="11.5" rx="1.4" fill="rgb(214,214,214)"/><path fill="rgb(107,107,107)" d="M103.10 21.00 C103.10 15.00 105.06 5.00 106.38 1.00 L112.92 1.00 C114.23 5.00 116.20 15.00 116.20 21.00 Z"/><ellipse cx="111.00" cy="12.00" rx="1.60" ry="5.00" fill="rgb(140,140,140)"/></g></g></g>
  <g stroke="#fff" stroke-width="1"><line x1="33.1" y1="132.5" x2="33.1" y2="129.7"/><line x1="66.25" y1="132.5" x2="66.25" y2="129.7"/><line x1="99.4" y1="132.5" x2="99.4" y2="129.7"/><line x1="0" y1="66.25" x2="2.8" y2="66.25"/></g>
</g>
<g class="ax" font-size="14" fill="#151515">
  <text x="85.6" y="245.5" text-anchor="end">0</text>
  <text x="85.6" y="311.8" text-anchor="end">80</text>
  <text x="85.6" y="378.0" text-anchor="end">160</text>
  <text x="87.6" y="390.7" text-anchor="middle"><tspan font-size="11" dy="-0.8">&#8722;</tspan><tspan dy="0.8" dx="0.8">80</tspan></text>
  <text x="120.2" y="390.7" text-anchor="middle"><tspan font-size="11" dy="-0.8">&#8722;</tspan><tspan dy="0.8" dx="0.8">40</tspan></text>
  <text x="155.9" y="390.7" text-anchor="middle">0</text>
  <text x="188.8" y="390.7" text-anchor="middle">40</text>
  <text x="222.2" y="390.7" text-anchor="middle">80</text>
  <text x="132.3" y="408.3" font-size="15.2" textLength="46.3" lengthAdjust="spacingAndGlyphs"><tspan font-style="italic">r</tspan> (mm)</text>
  <text transform="translate(59.8 298.8) rotate(-90)" text-anchor="middle" font-size="15.8"><tspan font-style="italic">x</tspan> (mm)</text>
  <text x="133.3" y="434.6" font-size="12.5" font-weight="bold" textLength="12.8" lengthAdjust="spacingAndGlyphs">(c)</text>
  <text x="190.2" y="366.7" font-size="15" fill="#fff" stroke="#fff" textLength="27" lengthAdjust="spacingAndGlyphs">180°</text>
</g>
<g class="ax" font-size="14" fill="#151515">
  <text x="354.2" y="245.7" text-anchor="end">0</text>
  <text x="354.2" y="312.0" text-anchor="end">80</text>
  <text x="354.2" y="378.3" text-anchor="end">160</text>
  <text x="356.0" y="391.1" text-anchor="middle"><tspan font-size="11" dy="-0.8">&#8722;</tspan><tspan dy="0.8" dx="0.8">80</tspan></text>
  <text x="388.6" y="391.1" text-anchor="middle"><tspan font-size="11" dy="-0.8">&#8722;</tspan><tspan dy="0.8" dx="0.8">40</tspan></text>
  <text x="423.85" y="391.1" text-anchor="middle">0</text>
  <text x="457.2" y="391.1" text-anchor="middle">40</text>
  <text x="490.6" y="391.1" text-anchor="middle">80</text>
  <text x="400.3" y="408.6" font-size="15.2" textLength="47.9" lengthAdjust="spacingAndGlyphs"><tspan font-style="italic">r</tspan> (mm)</text>
  <text transform="translate(329.2 298.8) rotate(-90)" text-anchor="middle" font-size="15.8"><tspan font-style="italic">x</tspan> (mm)</text>
  <text x="399.6" y="433.8" font-size="12.5" font-weight="bold" textLength="15.4" lengthAdjust="spacingAndGlyphs">(d)</text>
  <text x="459.2" y="366.9" font-size="15" fill="#fff" stroke="#fff" textLength="27" lengthAdjust="spacingAndGlyphs">180°</text>
</g>
</svg>
</body></html>
